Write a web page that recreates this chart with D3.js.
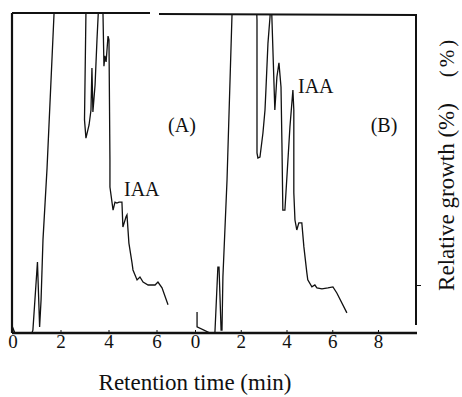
<!DOCTYPE html>
<html>
<head>
<meta charset="utf-8">
<script src="https://cdn.jsdelivr.net/npm/d3@7"></script>
<style>
  body { margin: 0; background: #fff; }
  text { font-family: "Liberation Serif", "Times New Roman", serif; fill: #111; }
</style>
</head>
<body>
<div id="chart"></div>
<script>
// chromatogram A: retention time (min) and detector response (% of full scale)
var timeA = [0, 0.10, 0.81, 0.85, 1.04, 1.13, 1.19, 1.27, 1.44, 1.73, 1.81, 2.98, 3.06, 3.00, 3.06, 3.19, 3.27, 3.31, 3.35, 3.44, 3.52, 3.58, 3.65, 3.73, 3.77, 3.81, 3.85, 3.90, 3.98, 4.02, 4.06, 4.06, 4.19, 4.27, 4.35, 4.44, 4.56, 4.60, 4.73, 4.77, 4.85, 4.98, 5.02, 5.19, 5.31, 5.44, 5.65, 5.94, 6.06, 6.23, 6.48];
var respA = [1.9, 0, 0, 0.9, 22.2, 1.9, 10.3, 29.1, 51.6, 99.7, 116, 116, 100, 66.6, 60.9, 65, 69.7, 82.8, 69.1, 77.5, 91.6, 100.9, 113, 113, 100, 83.4, 86.6, 84.7, 92.8, 91.6, 54.1, 45.6, 38.4, 40.9, 40.6, 40.9, 40.9, 33.1, 36.3, 36.9, 28.1, 21.9, 19.7, 16.6, 17.5, 15.9, 15.0, 15.0, 15.9, 14.1, 8.8];

// chromatogram B
var timeB = [0.09, 0.09, 0.66, 0.87, 1.00, 1.05, 1.14, 1.18, 1.22, 1.40, 1.62, 1.70, 2.62, 2.71, 2.71, 2.75, 2.84, 2.97, 3.06, 3.10, 3.19, 3.28, 3.32, 3.36, 3.49, 3.58, 3.67, 3.76, 3.80, 3.84, 3.93, 4.15, 4.28, 4.32, 4.32, 4.37, 4.45, 4.54, 4.67, 4.76, 4.89, 4.93, 5.11, 5.24, 5.33, 5.55, 5.81, 6.03, 6.20, 6.64];
var respB = [6.6, 1.9, 0, 0, 20.6, 20.6, 0.9, 0.9, 17.5, 47.8, 100, 116, 116, 97.8, 56.3, 54.7, 55, 62.5, 69.7, 75.9, 90.6, 98.8, 110, 98.8, 69.7, 80, 84.4, 76.9, 59.4, 38.4, 38.4, 64.4, 75.9, 69.7, 43.8, 35.3, 32.2, 34.4, 34.4, 26.9, 18.8, 16.6, 14.4, 15, 14.1, 13.8, 14.1, 14.4, 12.5, 6.3];

var ticksA = [0, 2, 4, 6];
var ticksB = [0, 2, 4, 6, 8];
var rightTicks = [15];

var width = 462, height = 397;
var plotLeft = 12, plotRight = 416, plotTop = 13, plotBottom = 333;

var svg = d3.select("#chart").append("svg")
    .attr("width", width)
    .attr("height", height);

var xA = d3.scaleLinear().domain([0, 6]).range([12.5, 156.5]);
var xB = d3.scaleLinear().domain([0, 8]).range([195, 378]);
var y = d3.scaleLinear().domain([0, 100]).range([plotBottom, plotTop]);

svg.append("defs").append("clipPath").attr("id", "plot")
  .append("rect")
    .attr("x", plotLeft).attr("y", plotTop + 1)
    .attr("width", plotRight - plotLeft).attr("height", plotBottom - plotTop);

// traces
var dataA = timeA.map((t, i) => [t, respA[i]]);
var dataB = timeB.map((t, i) => [t, respB[i]]);

svg.append("path")
    .datum(dataA)
    .attr("clip-path", "url(#plot)")
    .attr("fill", "none")
    .attr("stroke", "#111")
    .attr("stroke-width", 1.3)
    .attr("d", d3.line().x(d => xA(d[0])).y(d => y(d[1])));

svg.append("path")
    .datum(dataB)
    .attr("clip-path", "url(#plot)")
    .attr("fill", "none")
    .attr("stroke", "#111")
    .attr("stroke-width", 1.3)
    .attr("d", d3.line().x(d => xB(d[0])).y(d => y(d[1])));

// x axes, ticks point inward
function styleAxis(g) {
    g.attr("font-family", null);
    g.select(".domain").remove();
    g.selectAll("line").attr("stroke", "#111").attr("stroke-width", 1);
    g.selectAll("text")
        .attr("font-size", 19)
        .attr("fill", "#111");
}

svg.append("g")
    .attr("transform", `translate(0, ${plotBottom})`)
    .call(d3.axisBottom(xA).tickValues(ticksA).tickFormat(d3.format("d")).tickSizeInner(-3).tickSizeOuter(0).tickPadding(1))
    .call(styleAxis);

svg.append("g")
    .attr("transform", `translate(0, ${plotBottom})`)
    .call(d3.axisBottom(xB).tickValues(ticksB).tickFormat(d3.format("d")).tickSizeInner(-3).tickSizeOuter(0).tickPadding(1))
    .call(styleAxis);

svg.append("g")
    .attr("transform", `translate(${plotRight}, 0)`)
    .call(d3.axisLeft(y).tickValues(rightTicks).tickSize(-5).tickFormat(""))
    .call(styleAxis);

// frame (top border has a small break)
var frame = svg.append("g").attr("stroke", "#111").attr("fill", "none");
frame.append("line").attr("x1", plotLeft).attr("x2", plotLeft).attr("y1", plotTop).attr("y2", plotBottom).attr("stroke-width", 2.2);
frame.append("line").attr("x1", plotLeft).attr("x2", plotRight + 1).attr("y1", plotBottom).attr("y2", plotBottom).attr("stroke-width", 2.5);
frame.append("line").attr("x1", plotRight).attr("x2", plotRight).attr("y1", plotTop + 1).attr("y2", plotBottom - 8).attr("stroke-width", 2);
frame.append("line").attr("x1", plotLeft).attr("x2", 150).attr("y1", plotTop).attr("y2", plotTop).attr("stroke-width", 2.2);
frame.append("line").attr("x1", 159).attr("x2", plotRight).attr("y1", plotTop + 1).attr("y2", plotTop + 2).attr("stroke-width", 2.2);

// labels
svg.append("text").attr("x", 182).attr("y", 132).attr("text-anchor", "middle").attr("font-size", 20).text("(A)");
svg.append("text").attr("x", 384).attr("y", 132).attr("text-anchor", "middle").attr("font-size", 20).text("(B)");
svg.append("text").attr("x", 124).attr("y", 196).attr("font-size", 20).text("IAA");
svg.append("text").attr("x", 298).attr("y", 93).attr("font-size", 20).text("IAA");

svg.append("text")
    .attr("x", 195).attr("y", 390)
    .attr("text-anchor", "middle")
    .attr("font-size", 23)
    .text("Retention time (min)");

svg.append("text")
    .attr("transform", "translate(454, 197) rotate(-90)")
    .attr("text-anchor", "middle")
    .attr("font-size", 23)
    .text("Relative growth (%)");

svg.append("text")
    .attr("transform", "translate(454, 57) rotate(-90)")
    .attr("text-anchor", "middle")
    .attr("font-size", 21)
    .attr("letter-spacing", 3)
    .text("(%)");
</script>
</body>
</html>
